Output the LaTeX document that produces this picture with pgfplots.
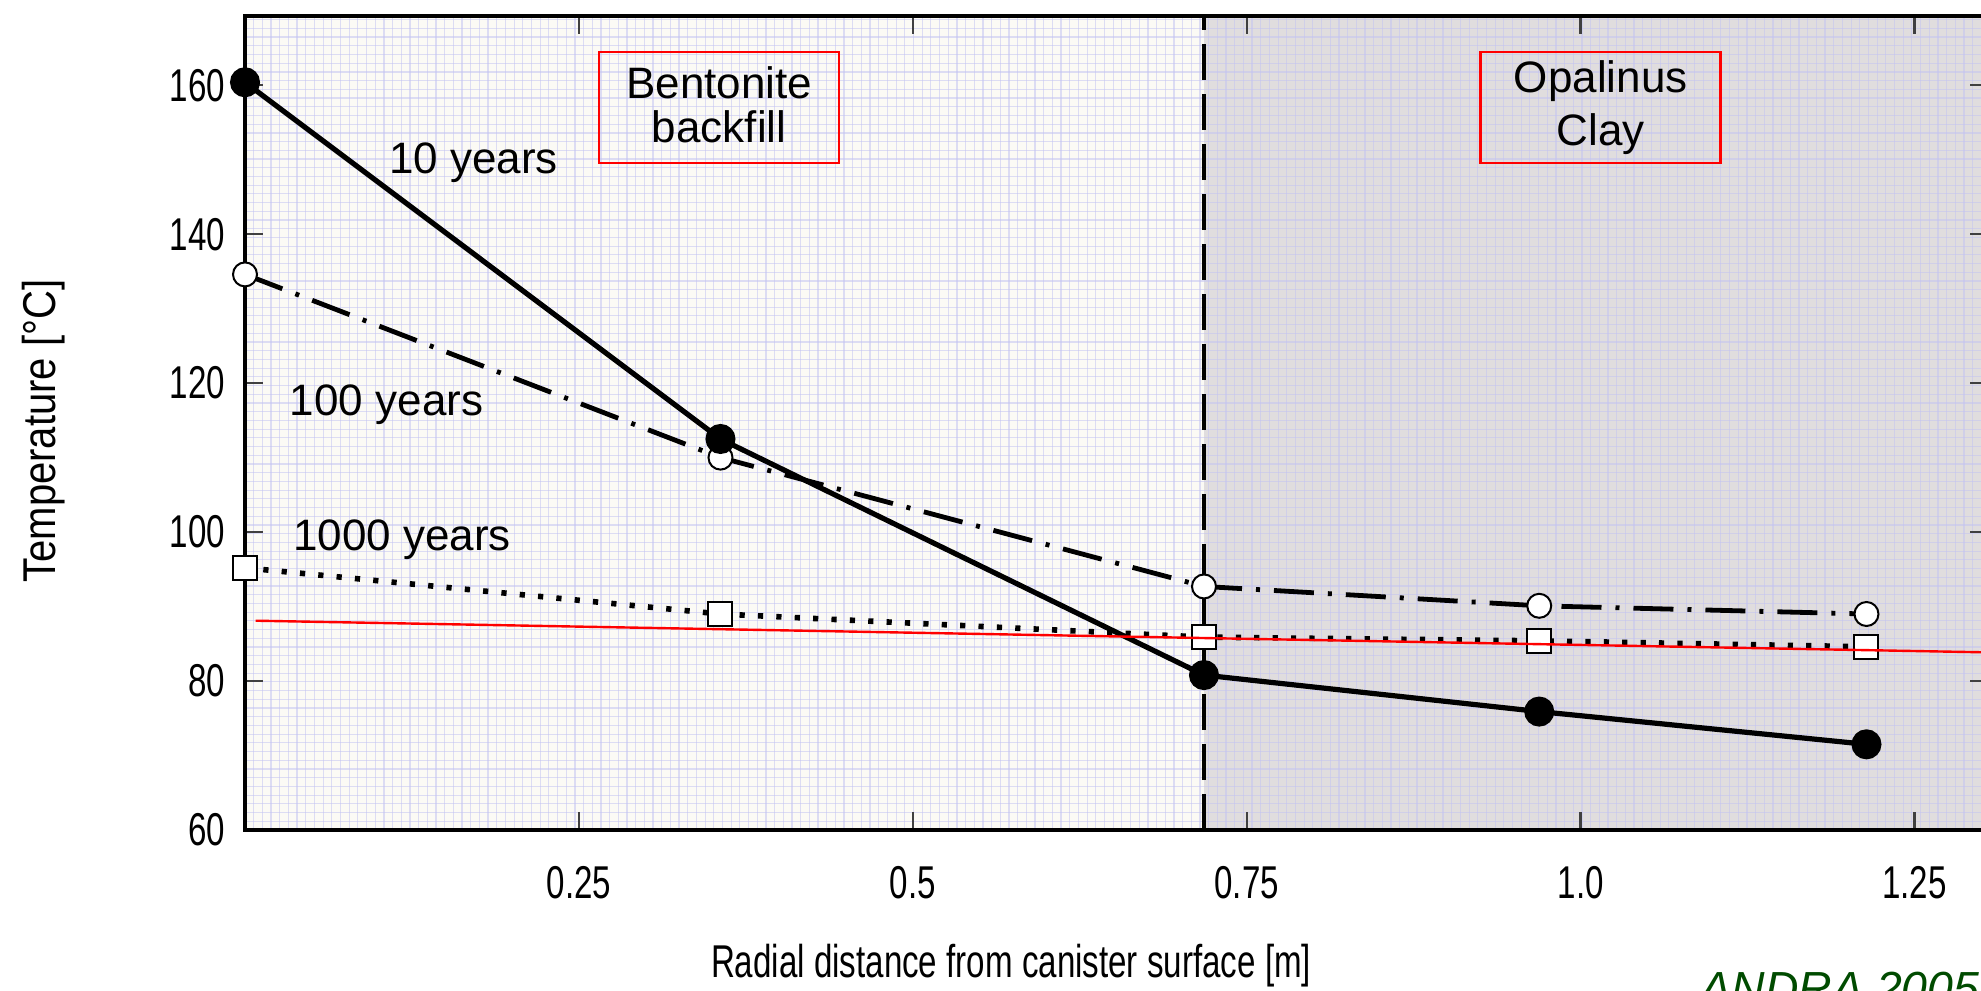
\documentclass[border=0pt]{standalone}
\usepackage{fontspec}
\setmainfont{Liberation Sans}
\newfontfamily\narrowsans[FakeStretch=0.72]{Liberation Sans}
\newfontfamily\ylabelsans[FakeStretch=0.87]{Liberation Sans}
\usepackage{pgfplots}
\pgfplotsset{compat=1.18}
\usepackage{pgfplotstable}

\definecolor{bentonite}{RGB}{251,250,245}
\definecolor{opalinus}{RGB}{224,221,222}
\definecolor{meshline}{RGB}{196,196,242}
\definecolor{andra}{RGB}{0,75,0}

% Temperature profiles across backfill and host rock
\pgfplotstableread{
x T
0.000 160.4
0.356 112.5
0.718 80.8
0.969 75.9
1.214 71.5
}\tenyears
\pgfplotstableread{
x T
0.000 134.6
0.356 110.0
0.718 92.7
0.969 90.1
1.214 89.0
}\hundredyears
\pgfplotstableread{
x T
0.000 95.2
0.356 89.0
0.718 85.9
0.969 85.4
1.214 84.6
}\thousandyears

\begin{document}
\begin{tikzpicture}
\begin{axis}[
  at={(0pt,0pt)}, anchor=south west,
  scale only axis, width=435.75pt, height=203.5pt,
  xmin=0, xmax=1.305, ymin=60, ymax=169.3,
  set layers, clip mode=individual,
  axis background/.style={fill=bentonite},
  axis line style={line width=1.2pt, black},
  xtick={0.25,0.5,0.75,1.0,1.25},
  xticklabels={0.25,0.5,0.75,1.0,1.25},
  ytick={60,80,...,160},
  tick align=inside,
  major tick length=4.5pt,
  major tick style={line width=0.6pt, black!75},
  minor xtick={0,0.0065,...,1.31},
  minor ytick={60,61.17,...,170},
  minor tick style={draw=none},
  minor grid style={meshline, opacity=0.55, line width=0.3pt},
  grid=minor,
  /pgf/number format/assume math mode=true,
  tick label style={font=\narrowsans\fontsize{11.5}{13}\selectfont, text=black},
  yticklabel style={xshift=-1.5pt},
  xticklabel style={yshift=-5.5pt},
  xlabel={Radial distance from canister surface [m]},
  ylabel={Temperature [°C]},
  xlabel style={at={(axis description cs:0.4395,-0.167)}, anchor=center,
    font=\narrowsans\fontsize{11.5}{13}\selectfont},
  ylabel style={at={(axis description cs:-0.1153,0.49)}, anchor=center,
    font=\ylabelsans\fontsize{11.5}{13}\selectfont},
]
% host rock zone
\addplot[on layer=axis background, draw=none, fill=opalinus]
  coordinates {(0.718,169.3) (1.32,169.3)} \closedcycle;

% backfill / host rock interface
\addplot[black, line width=1pt, dash pattern=on 9pt off 3.5pt]
  coordinates {(0.718,60) (0.718,169.3)};

\addplot[black, line width=1.4pt, dash pattern=on 1.3pt off 3.3pt,
  mark=square*, mark size=3pt,
  mark options={solid, fill=white, draw=black, line width=0.5pt}]
  table[x=x, y=T] {\thousandyears};
\addplot[black, line width=1.2pt, dash pattern=on 10pt off 3.5pt on 1pt off 3.5pt,
  mark=*, mark size=3pt,
  mark options={solid, fill=white, draw=black, line width=0.5pt}]
  table[x=x, y=T] {\hundredyears};
\addplot[black, line width=1.3pt, mark=*, mark size=3.1pt,
  mark options={solid, fill=black}]
  table[x=x, y=T] {\tenyears};

% reference level
\addplot[red, line width=0.6pt] coordinates {(0.008,88.1) (1.32,83.8)};

\node[font=\fontsize{11}{13}\selectfont] at (axis cs:0.171,149.6) {10 years};
\node[font=\fontsize{11}{13}\selectfont] at (axis cs:0.106,117.1) {100 years};
\node[font=\fontsize{11}{13}\selectfont] at (axis cs:0.1175,99.0) {1000 years};

\node[draw=red, line width=0.6pt, minimum width=60pt, minimum height=27.75pt,
  align=center, inner sep=0pt, font=\fontsize{11}{12.6}\selectfont]
  at (axis cs:0.355,157) {\raisebox{1.5pt}{\shortstack{Bentonite\\backfill}}};
\node[draw=red, line width=0.6pt, minimum width=60pt, minimum height=27.75pt,
  align=center, inner sep=0pt, font=\fontsize{11}{12.6}\selectfont]
  at (axis cs:1.015,157) {\raisebox{1.5pt}{\shortstack{Opalinus\\Clay}}};

\node[anchor=base west, inner sep=0pt, text=andra,
  font=\fontsize{11.6}{13}\selectfont\itshape]
  at (rel axis cs:0.8348,-0.2143) {ANDRA 2005};

\coordinate (bbSW) at (rel axis cs:-0.14056,-0.19779);
\coordinate (bbNE) at (rel axis cs:0.99598,1.019656);
\end{axis}
\pgfresetboundingbox
\path[use as bounding box] (bbSW) rectangle (bbNE);
\end{tikzpicture}
\end{document}
